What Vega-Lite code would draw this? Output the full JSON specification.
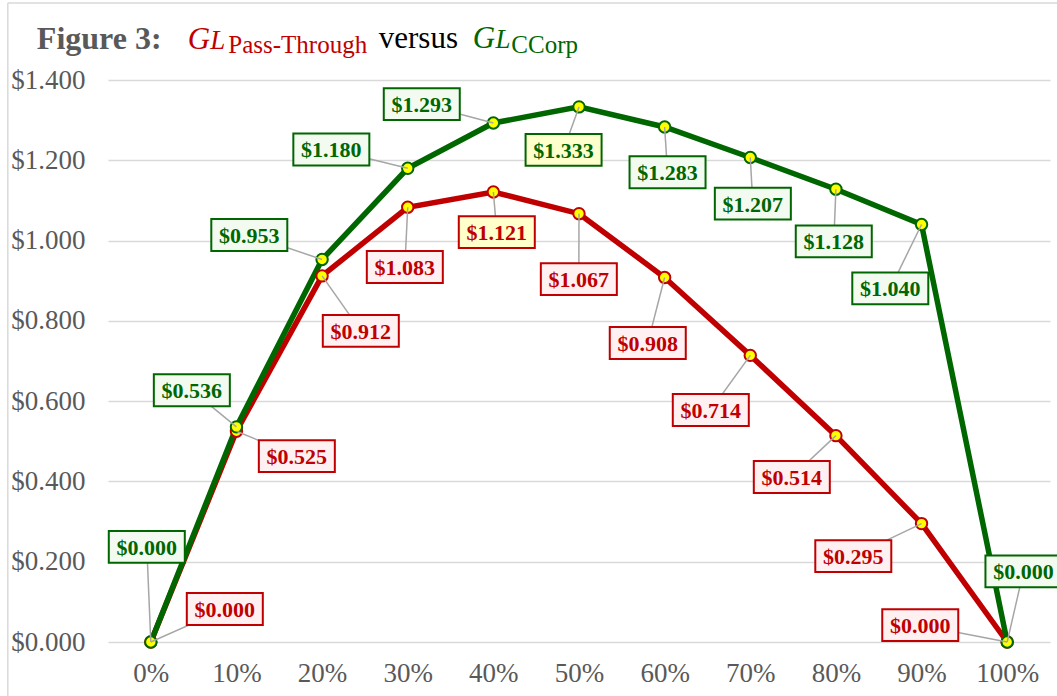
{
  "$schema": "https://vega.github.io/schema/vega-lite/v6.json",
  "width": 942,
  "height": 562,
  "autosize": {"type": "none"},
  "padding": {"left": 108, "top": 80, "right": 7, "bottom": 54},
  "background": "white",
  "config": {"view": {"stroke": null}, "font": "Liberation Serif"},
  "data": {
    "values": [
      {"series": "Pass-Through", "pct": 0, "value": 0.000, "lx": 8.64, "ly": 0.082},
      {"series": "Pass-Through", "pct": 10, "value": 0.525, "lx": 17.05, "ly": 0.463},
      {"series": "Pass-Through", "pct": 20, "value": 0.912, "lx": 24.52, "ly": 0.775},
      {"series": "Pass-Through", "pct": 30, "value": 1.083, "lx": 29.66, "ly": 0.934},
      {"series": "Pass-Through", "pct": 40, "value": 1.121, "lx": 40.40, "ly": 1.021},
      {"series": "Pass-Through", "pct": 50, "value": 1.067, "lx": 49.98, "ly": 0.904},
      {"series": "Pass-Through", "pct": 60, "value": 0.908, "lx": 58.03, "ly": 0.745},
      {"series": "Pass-Through", "pct": 70, "value": 0.714, "lx": 65.39, "ly": 0.578},
      {"series": "Pass-Through", "pct": 80, "value": 0.514, "lx": 74.85, "ly": 0.411},
      {"series": "Pass-Through", "pct": 90, "value": 0.295, "lx": 82.03, "ly": 0.214},
      {"series": "Pass-Through", "pct": 100, "value": 0.000, "lx": 89.85, "ly": 0.042},
      {"series": "CCorp", "pct": 0, "value": 0.000, "lx": -0.47, "ly": 0.237},
      {"series": "CCorp", "pct": 10, "value": 0.536, "lx": 4.79, "ly": 0.627},
      {"series": "CCorp", "pct": 20, "value": 0.953, "lx": 11.5, "ly": 1.014},
      {"series": "CCorp", "pct": 30, "value": 1.180, "lx": 21.08, "ly": 1.227},
      {"series": "CCorp", "pct": 40, "value": 1.293, "lx": 31.64, "ly": 1.340},
      {"series": "CCorp", "pct": 50, "value": 1.333, "lx": 48.2, "ly": 1.226},
      {"series": "CCorp", "pct": 60, "value": 1.283, "lx": 60.34, "ly": 1.170},
      {"series": "CCorp", "pct": 70, "value": 1.207, "lx": 70.3, "ly": 1.092},
      {"series": "CCorp", "pct": 80, "value": 1.128, "lx": 79.75, "ly": 0.998},
      {"series": "CCorp", "pct": 90, "value": 1.040, "lx": 86.35, "ly": 0.881},
      {"series": "CCorp", "pct": 100, "value": 0.000, "lx": 101.9, "ly": 0.176}
    ]
  },
  "transform": [
    {"joinaggregate": [{"op": "max", "field": "value", "as": "maxv"}], "groupby": ["series"]}
  ],
  "layer": [
    {
      "transform": [{"filter": "datum.series === 'Pass-Through'"}],
      "mark": {"type": "line", "strokeWidth": 5.5, "color": "#c00000"},
      "encoding": {
        "x": {
          "field": "pct", "type": "quantitative",
          "scale": {"domain": [-5, 105], "nice": false, "zero": false},
          "axis": {
            "title": null, "values": [0, 10, 20, 30, 40, 50, 60, 70, 80, 90, 100],
            "labelExpr": "datum.value + '%'", "grid": false, "domain": false, "ticks": false,
            "labelFontSize": 27, "labelColor": "#595959", "labelFont": "Liberation Serif",
            "labelPadding": 18
          }
        },
        "y": {
          "field": "value", "type": "quantitative",
          "scale": {"domain": [0, 1.4], "nice": false},
          "axis": {
            "title": null, "values": [0, 0.2, 0.4, 0.6, 0.8, 1.0, 1.2, 1.4],
            "format": "$.3f", "grid": true, "gridColor": "#d9d9d9", "gridWidth": 1.5,
            "domain": false, "ticks": false,
            "labelFontSize": 27, "labelColor": "#595959", "labelFont": "Liberation Serif",
            "labelPadding": 23
          }
        }
      }
    },
    {
      "transform": [{"filter": "datum.series === 'CCorp'"}],
      "mark": {"type": "line", "strokeWidth": 5.5, "color": "#006600"},
      "encoding": {
        "x": {"field": "pct", "type": "quantitative"},
        "y": {"field": "value", "type": "quantitative"}
      }
    },
    {
      "transform": [{"filter": "datum.series === 'Pass-Through'"}],
      "mark": {"type": "point", "shape": "circle", "filled": true, "size": 130, "fill": "#ffff00", "stroke": "#c00000", "strokeWidth": 2, "opacity": 1},
      "encoding": {
        "x": {"field": "pct", "type": "quantitative"},
        "y": {"field": "value", "type": "quantitative"}
      }
    },
    {
      "transform": [{"filter": "datum.series === 'CCorp'"}],
      "mark": {"type": "point", "shape": "circle", "filled": true, "size": 130, "fill": "#ffff00", "stroke": "#006600", "strokeWidth": 2, "opacity": 1},
      "encoding": {
        "x": {"field": "pct", "type": "quantitative"},
        "y": {"field": "value", "type": "quantitative"}
      }
    },
    {
      "mark": {"type": "rule", "color": "#a6a6a6", "strokeWidth": 1.5},
      "encoding": {
        "x": {"field": "pct", "type": "quantitative"},
        "y": {"field": "value", "type": "quantitative"},
        "x2": {"field": "lx"},
        "y2": {"field": "ly"}
      }
    },
    {
      "mark": {"type": "point", "shape": "M-1,-0.42H1V0.42H-1Z", "size": 5776, "filled": true, "strokeWidth": 2, "opacity": 1},
      "encoding": {
        "x": {"field": "lx", "type": "quantitative"},
        "y": {"field": "ly", "type": "quantitative"},
        "stroke": {
          "field": "series", "type": "nominal",
          "scale": {"domain": ["Pass-Through", "CCorp"], "range": ["#c00000", "#006600"]},
          "legend": null
        },
        "fill": {
          "condition": {"test": "datum.value === datum.maxv", "value": "#ffffcc"},
          "field": "series", "type": "nominal",
          "scale": {"domain": ["Pass-Through", "CCorp"], "range": ["#fff0f2", "#f3fbf1"]},
          "legend": null
        }
      }
    },
    {
      "mark": {"type": "text", "fontSize": 22, "fontWeight": "bold", "font": "Liberation Serif", "align": "center", "baseline": "middle", "dy": 1},
      "encoding": {
        "x": {"field": "lx", "type": "quantitative"},
        "y": {"field": "ly", "type": "quantitative"},
        "text": {"field": "value", "type": "quantitative", "format": "$.3f"},
        "color": {
          "field": "series", "type": "nominal",
          "scale": {"domain": ["Pass-Through", "CCorp"], "range": ["#c00000", "#006600"]},
          "legend": null
        }
      }
    },
    {
      "data": {"values": [{}]},
      "mark": {"type": "rule", "color": "#d9d9d9", "strokeWidth": 1.5},
      "encoding": {"x": {"datum": -16.7}, "y": {"datum": 1.592}, "y2": {"datum": -0.2}}
    },
    {
      "data": {"values": [{}]},
      "mark": {"type": "rule", "color": "#d9d9d9", "strokeWidth": 1.5},
      "encoding": {"x": {"datum": -16.7}, "x2": {"datum": 107}, "y": {"datum": 1.592}}
    },
    {
      "data": {"values": [{}]},
      "mark": {"type": "text", "text": "Figure 3:", "fontSize": 32, "fontWeight": "bold", "font": "Liberation Serif", "color": "#595959", "align": "left", "baseline": "alphabetic"},
      "encoding": {"x": {"datum": -13.31}, "y": {"datum": 1.4773}}
    },
    {
      "data": {"values": [{}]},
      "mark": {"type": "text", "text": "G", "fontSize": 31, "fontStyle": "italic", "font": "Liberation Serif", "color": "#c00000", "align": "left", "baseline": "alphabetic"},
      "encoding": {"x": {"datum": 4.32}, "y": {"datum": 1.4773}}
    },
    {
      "data": {"values": [{}]},
      "mark": {"type": "text", "text": "L", "fontSize": 27, "fontStyle": "italic", "font": "Liberation Serif", "color": "#c00000", "align": "left", "baseline": "alphabetic"},
      "encoding": {"x": {"datum": 6.95}, "y": {"datum": 1.4773}}
    },
    {
      "data": {"values": [{}]},
      "mark": {"type": "text", "text": "Pass-Through", "fontSize": 25, "font": "Liberation Serif", "color": "#c00000", "align": "left", "baseline": "alphabetic"},
      "encoding": {"x": {"datum": 9.05}, "y": {"datum": 1.4674}}
    },
    {
      "data": {"values": [{}]},
      "mark": {"type": "text", "text": "versus", "fontSize": 31, "font": "Liberation Serif", "color": "#000000", "align": "left", "baseline": "alphabetic"},
      "encoding": {"x": {"datum": 26.62}, "y": {"datum": 1.4798}}
    },
    {
      "data": {"values": [{}]},
      "mark": {"type": "text", "text": "G", "fontSize": 31, "fontStyle": "italic", "font": "Liberation Serif", "color": "#006600", "align": "left", "baseline": "alphabetic"},
      "encoding": {"x": {"datum": 37.6}, "y": {"datum": 1.4798}}
    },
    {
      "data": {"values": [{}]},
      "mark": {"type": "text", "text": "L", "fontSize": 27, "fontStyle": "italic", "font": "Liberation Serif", "color": "#006600", "align": "left", "baseline": "alphabetic"},
      "encoding": {"x": {"datum": 40.25}, "y": {"datum": 1.4798}}
    },
    {
      "data": {"values": [{}]},
      "mark": {"type": "text", "text": "CCorp", "fontSize": 25, "font": "Liberation Serif", "color": "#006600", "align": "left", "baseline": "alphabetic"},
      "encoding": {"x": {"datum": 42.1}, "y": {"datum": 1.4674}}
    }
  ]
}
